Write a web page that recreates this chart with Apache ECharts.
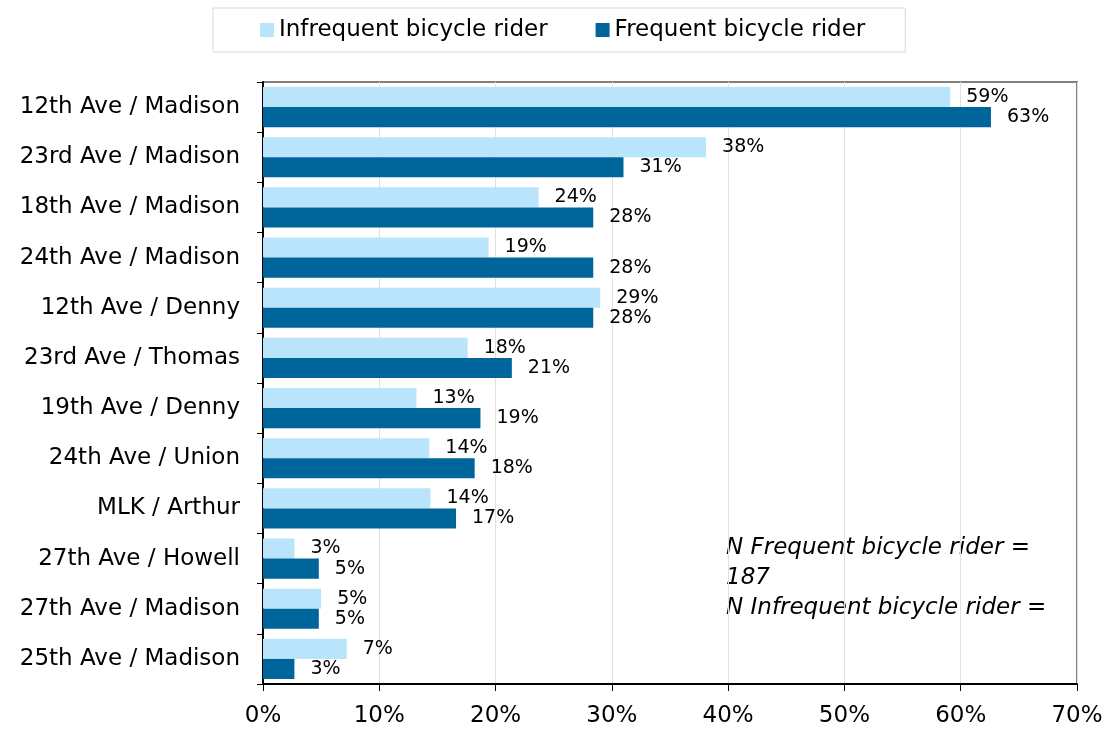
<!DOCTYPE html>
<html>
<head>
<meta charset="utf-8">
<script src="https://cdn.jsdelivr.net/npm/echarts@6/dist/echarts.min.js"></script>
<style>
html,body{margin:0;padding:0;background:#fff;}
#chart{width:1111px;height:729px;}
</style>
</head>
<body>
<div id="chart"></div>
<script>
const categories = ['12th Ave / Madison','23rd Ave / Madison','18th Ave / Madison','24th Ave / Madison','12th Ave / Denny','23rd Ave / Thomas','19th Ave / Denny','24th Ave / Union','MLK / Arthur','27th Ave / Howell','27th Ave / Madison','25th Ave / Madison'];
const infrequent = [59.1, 38.1, 23.7, 19.4, 29.0, 17.6, 13.2, 14.3, 14.4, 2.7, 5.0, 7.2];
const frequent = [62.6, 31.0, 28.4, 28.4, 28.4, 21.4, 18.7, 18.2, 16.6, 4.8, 4.8, 2.7];
const seriesNames = ['Infrequent bicycle rider', 'Frequent bicycle rider'];
const xTicks = {min: 0, max: 70, interval: 10};
const noteText = 'N Frequent bicycle rider =\n187\nN Infrequent bicycle rider =';

const FONT = 'DejaVu Sans';
const chart = echarts.init(document.getElementById('chart'));
const labelCfg = {
  show: true, position: 'right', distance: 16,
  fontFamily: FONT, fontSize: 19, color: '#000',
  formatter: p => Math.round(p.value) + '%'
};
chart.setOption({
  animation: false,
  textStyle: {fontFamily: FONT},
  legend: {
    data: seriesNames,
    left: 213, top: 8,
    orient: 'horizontal',
    itemWidth: 14, itemHeight: 14, itemGap: 48,
    padding: [10, 40, 10, 47],
    borderColor: '#d9d9d9', borderWidth: 1,
    backgroundColor: '#fff',
    icon: 'rect',
    textStyle: {fontFamily: FONT, fontSize: 23, color: '#000', lineHeight: 24}
  },
  grid: {
    left: 263, right: 34, top: 82, bottom: 45,
    show: true, borderColor: '#808080', borderWidth: 2, backgroundColor: 'transparent'
  },
  xAxis: {
    type: 'value', min: xTicks.min, max: xTicks.max, interval: xTicks.interval,
    axisLine: {show: true, lineStyle: {color: '#000', width: 2}},
    axisTick: {show: true, length: 7, lineStyle: {color: '#000', width: 1}},
    splitLine: {show: true, lineStyle: {color: '#e0e0e0', width: 1}},
    axisLabel: {formatter: '{value}%', fontFamily: FONT, fontSize: 23, color: '#000', margin: 21}
  },
  yAxis: {
    type: 'category', data: categories, inverse: true,
    axisLine: {show: true, lineStyle: {color: '#000', width: 2}},
    axisTick: {show: true, length: 6, alignWithLabel: false, lineStyle: {color: '#000', width: 1}},
    axisLabel: {fontFamily: FONT, fontSize: 23, color: '#000', margin: 23}
  },
  series: [
    {name: seriesNames[0], type: 'bar', data: infrequent, barGap: 0, barCategoryGap: '20%',
     itemStyle: {color: '#b9e4fb'}, label: labelCfg},
    {name: seriesNames[1], type: 'bar', data: frequent, barGap: 0, barCategoryGap: '20%',
     itemStyle: {color: '#00659a'}, label: labelCfg}
  ],
  graphic: [{
    type: 'text', left: 726, top: 533,
    style: {text: noteText, font: 'italic 23px "DejaVu Sans"', fill: '#000', lineHeight: 30}
  }]
});
</script>
</body>
</html>
